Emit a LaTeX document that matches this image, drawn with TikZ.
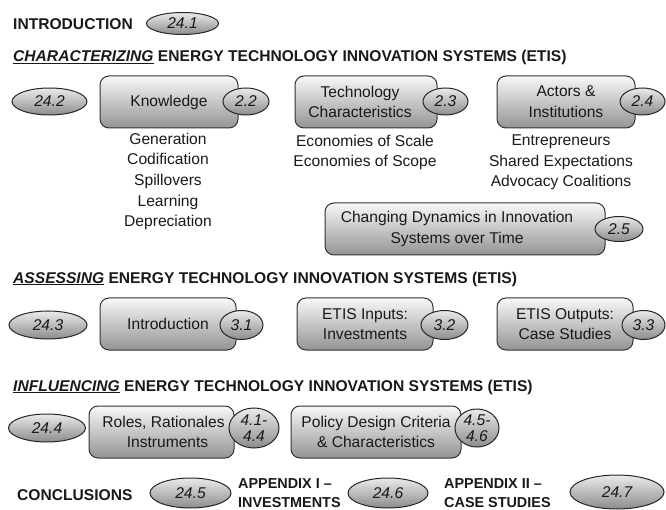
\documentclass[tikz,border=0pt]{standalone}
\usepackage{fontspec}
\setmainfont{Liberation Sans}
\usetikzlibrary{shapes.geometric}
\newcommand\myfs{\fontsize{15.6}{20.7}\selectfont}
\newcommand\myhs{\fontsize{15.6}{19}\selectfont\bfseries}
\newcommand\mybs{\fontsize{14.4}{18.5}\selectfont\bfseries}
\begin{document}
\begin{tikzpicture}[x=1pt,y=-1pt,
  box/.style={draw=black!80, line width=1pt, rounded corners=9pt, top color=black!3, bottom color=black!42, align=center, font=\myfs, text=black!90, inner sep=0pt},
  num/.style={ellipse, draw=black!85, line width=1pt, top color=black!8, bottom color=black!45, font=\myfs\itshape, text=black!90, inner sep=0pt, align=center},
  head/.style={anchor=west, font=\myhs, inner sep=0pt, text=black!90},
  lst/.style={align=center, font=\myfs, inner sep=0pt, text=black!90}]
\useasboundingbox (0,0) rectangle (666,510);

% headings
\node[head] (intro) at (13,24) {INTRODUCTION};
\node[num, minimum width=72, minimum height=22] (n241) at (182.5,23.5) {24.1};
\node[head] (hchar) at (13,57.5) {\underline{\itshape CHARACTERIZING} ENERGY TECHNOLOGY INNOVATION SYSTEMS (ETIS)};

% row 1
\node[num, minimum width=75, minimum height=27] (n242) at (49.5,101.5) {24.2};
\node[box, minimum width=138, minimum height=52] (know) at (169,102) {Knowledge};
\node[num, minimum width=46, minimum height=27] (n22) at (246,101.5) {2.2};
\node[lst] (knowlist) at (168,181.5) {Generation\\Codification\\Spillovers\\Learning\\Depreciation};

\node[box, minimum width=142, minimum height=52] (tech) at (366,102) {Technology\hspace*{12pt}\\Characteristics\hspace*{12pt}};
\node[num, minimum width=45, minimum height=27] (n23) at (445.5,101.5) {2.3};
\node[lst] (techlist) at (365,152.5) {Economies of Scale\\Economies of Scope};

\node[box, minimum width=138, minimum height=52] (act) at (566,102) {Actors \&\\Institutions};
\node[num, minimum width=45, minimum height=27] (n24) at (642.5,101.5) {2.4};
\node[lst] (actlist) at (561,162.5) {Entrepreneurs\\Shared Expectations\\Advocacy Coalitions};

\node[box, minimum width=280, minimum height=52] (dyn) at (465,229) {Changing Dynamics in Innovation\hspace*{16pt}\\Systems over Time\hspace*{16pt}};
\node[num, minimum width=48, minimum height=25] (n25) at (619,229) {2.5};

% assessing
\node[head] (hass) at (13,279) {\underline{\itshape ASSESSING} ENERGY TECHNOLOGY INNOVATION SYSTEMS (ETIS)};
\node[num, minimum width=78, minimum height=28] (n243) at (48,325) {24.3};
\node[box, minimum width=136, minimum height=52] (aint) at (168,324) {Introduction};
\node[num, minimum width=43, minimum height=29] (n31) at (241.5,325) {3.1};
\node[box, minimum width=136, minimum height=52] (inp) at (365,324) {ETIS Inputs:\\Investments};
\node[num, minimum width=47, minimum height=29] (n32) at (444.5,325) {3.2};
\node[box, minimum width=136, minimum height=52] (outp) at (565,324) {ETIS Outputs:\\Case Studies};
\node[num, minimum width=43, minimum height=29] (n33) at (643.5,325) {3.3};

% influencing
\node[head] (hinf) at (13,387) {\underline{\itshape INFLUENCING} ENERGY TECHNOLOGY INNOVATION SYSTEMS (ETIS)};
\node[num, minimum width=77, minimum height=28] (n244) at (47,428) {24.4};
\node[box, minimum width=145, minimum height=52] (roles) at (161.5,432) {\hspace*{4pt}Roles, Rationales\\\hspace*{12pt}Instruments};
\node[num, minimum width=50, minimum height=40, font=\fontsize{15.6}{15.5}\selectfont\itshape] (n41) at (254,428) {4.1-\\4.4};
\node[box, minimum width=170, minimum height=52] (pol) at (376,432) {Policy Design Criteria\\\& Characteristics};
\node[num, minimum width=44, minimum height=38, font=\fontsize{15.6}{15.5}\selectfont\itshape] (n45) at (477,428) {4.5-\\4.6};

% bottom
\node[head] (concl) at (17,495) {CONCLUSIONS};
\node[num, minimum width=81, minimum height=30] (n245) at (190.5,493) {24.5};
\node[head, align=left, font=\mybs] (app1) at (238,493) {APPENDIX I --\\INVESTMENTS};
\node[num, minimum width=80, minimum height=30] (n246) at (388,493) {24.6};
\node[head, align=left, font=\mybs] (app2) at (444,493) {APPENDIX II --\\CASE STUDIES};
\node[num, minimum width=94, minimum height=34] (n247) at (617,492) {24.7};
\end{tikzpicture}
\end{document}
